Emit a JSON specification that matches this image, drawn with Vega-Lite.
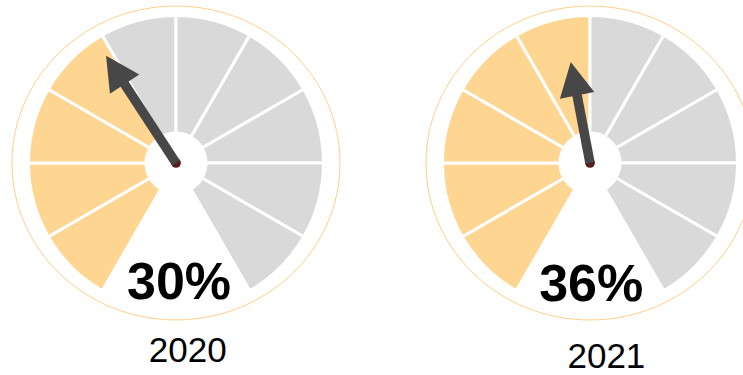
{
  "$schema": "https://vega.github.io/schema/vega-lite/v6.json",
  "padding": {"left": 11, "top": 0, "right": 0, "bottom": 0},
  "config": {"view": {"stroke": null}},
  "spacing": 74,
  "data": {
    "values": [
      {"year": "2020", "part": "ring", "cx": 0, "cy": 0},
      {"year": "2020", "part": "seg", "a0": -150, "a1": -120, "state": "on", "cx": 0, "cy": 0},
      {"year": "2020", "part": "seg", "a0": -120, "a1": -90, "state": "on", "cx": 0, "cy": 0},
      {"year": "2020", "part": "seg", "a0": -90, "a1": -60, "state": "on", "cx": 0, "cy": 0},
      {"year": "2020", "part": "seg", "a0": -60, "a1": -30, "state": "on", "cx": 0, "cy": 0},
      {"year": "2020", "part": "seg", "a0": -30, "a1": 0, "state": "off", "cx": 0, "cy": 0},
      {"year": "2020", "part": "seg", "a0": 0, "a1": 30, "state": "off", "cx": 0, "cy": 0},
      {"year": "2020", "part": "seg", "a0": 30, "a1": 60, "state": "off", "cx": 0, "cy": 0},
      {"year": "2020", "part": "seg", "a0": 60, "a1": 90, "state": "off", "cx": 0, "cy": 0},
      {"year": "2020", "part": "seg", "a0": 90, "a1": 120, "state": "off", "cx": 0, "cy": 0},
      {"year": "2020", "part": "seg", "a0": 120, "a1": 150, "state": "off", "cx": 0, "cy": 0},
      {"year": "2020", "part": "needle", "cx": 0, "cy": 0, "sx": -0.5352, "sy": 0.8209, "hx": -0.6067, "hy": 0.9307, "rot": -33.1},
      {"year": "2020", "part": "pct", "label": "30%", "lx": 0.03, "ly": -1.36},
      {"year": "2020", "part": "yr", "label": "2020", "lx": 0.118, "ly": -1.99},
      {"year": "2021", "part": "ring", "cx": 0, "cy": 0},
      {"year": "2021", "part": "seg", "a0": -150, "a1": -120, "state": "on", "cx": 0, "cy": 0},
      {"year": "2021", "part": "seg", "a0": -120, "a1": -90, "state": "on", "cx": 0, "cy": 0},
      {"year": "2021", "part": "seg", "a0": -90, "a1": -60, "state": "on", "cx": 0, "cy": 0},
      {"year": "2021", "part": "seg", "a0": -60, "a1": -30, "state": "on", "cx": 0, "cy": 0},
      {"year": "2021", "part": "seg", "a0": -30, "a1": 0, "state": "on", "cx": 0, "cy": 0},
      {"year": "2021", "part": "seg", "a0": 0, "a1": 30, "state": "off", "cx": 0, "cy": 0},
      {"year": "2021", "part": "seg", "a0": 30, "a1": 60, "state": "off", "cx": 0, "cy": 0},
      {"year": "2021", "part": "seg", "a0": 60, "a1": 90, "state": "off", "cx": 0, "cy": 0},
      {"year": "2021", "part": "seg", "a0": 90, "a1": 120, "state": "off", "cx": 0, "cy": 0},
      {"year": "2021", "part": "seg", "a0": 120, "a1": 150, "state": "off", "cx": 0, "cy": 0},
      {"year": "2021", "part": "needle", "cx": 0, "cy": 0, "sx": -0.1312, "sy": 0.6876, "hx": -0.1608, "hy": 0.8428, "rot": -10.8},
      {"year": "2021", "part": "pct", "label": "36%", "lx": 0.012, "ly": -1.377},
      {"year": "2021", "part": "yr", "label": "2021", "lx": 0.164, "ly": -2.05}
    ]
  },
  "hconcat": [
    {
      "width": 340,
      "height": 326,
      "transform": [{"filter": "datum.year === '2020'"}],
      "encoding": {
        "x": {"field": "cx", "type": "quantitative", "scale": {"domain": [-1.65, 1.75]}, "axis": null},
        "y": {"field": "cy", "type": "quantitative", "scale": {"domain": [-1.63, 1.63]}, "axis": null}
      },
      "layer": [
        {
          "transform": [{"filter": "datum.part === 'ring'"}],
          "mark": {"type": "point", "shape": "M-1,0A1,0.957 0 1,0 1,0A1,0.957 0 1,0 -1,0Z", "clip": true, "filled": false, "size": 107584, "stroke": "#FFD08A", "strokeWidth": 1, "opacity": 1}
        },
        {
          "transform": [{"filter": "datum.part === 'seg'"}],
          "mark": {"type": "arc", "radius": 147.5, "radius2": 30, "stroke": "white", "strokeWidth": 3},
          "encoding": {
            "theta": {"field": "a0", "type": "quantitative", "stack": null, "scale": {"domain": [0, 360], "range": [0, 6.283185307]}},
            "theta2": {"field": "a1"},
            "color": {"field": "state", "type": "nominal", "scale": {"domain": ["on", "off"], "range": ["#FFD592", "#D9D9D9"]}, "legend": null}
          }
        },
        {
          "transform": [{"filter": "datum.part === 'needle'"}],
          "mark": {"type": "point", "shape": "circle", "filled": true, "size": 95, "color": "#5C1C1C", "opacity": 1}
        },
        {
          "transform": [{"filter": "datum.part === 'needle'"}],
          "mark": {"type": "rule", "color": "#474747", "strokeWidth": 9.5, "strokeCap": "butt"},
          "encoding": {"x2": {"field": "sx"}, "y2": {"field": "sy"}}
        },
        {
          "transform": [{"filter": "datum.part === 'needle'"}],
          "mark": {"type": "point", "shape": "M0,-0.97L-1,0.97L1,0.97Z", "filled": true, "size": 1225, "color": "#474747", "opacity": 1},
          "encoding": {
            "x": {"field": "hx", "type": "quantitative"},
            "y": {"field": "hy", "type": "quantitative"},
            "angle": {"field": "rot", "type": "quantitative", "scale": {"domain": [-360, 360], "range": [-360, 360]}}
          }
        },
        {
          "transform": [{"filter": "datum.part === 'pct'"}],
          "mark": {"type": "text", "font": "Liberation Sans", "fontSize": 52, "fontWeight": "bold", "color": "#000000", "align": "center", "baseline": "alphabetic"},
          "encoding": {
            "x": {"field": "lx", "type": "quantitative"},
            "y": {"field": "ly", "type": "quantitative"},
            "text": {"field": "label"}
          }
        },
        {
          "transform": [{"filter": "datum.part === 'yr'"}],
          "mark": {"type": "text", "font": "Liberation Sans", "fontSize": 35, "color": "#000000", "align": "center", "baseline": "alphabetic"},
          "encoding": {
            "x": {"field": "lx", "type": "quantitative"},
            "y": {"field": "ly", "type": "quantitative"},
            "text": {"field": "label"}
          }
        }
      ]
    },
    {
      "width": 318,
      "height": 326,
      "transform": [{"filter": "datum.year === '2021'"}],
      "encoding": {
        "x": {"field": "cx", "type": "quantitative", "scale": {"domain": [-1.65, 1.53]}, "axis": null},
        "y": {"field": "cy", "type": "quantitative", "scale": {"domain": [-1.63, 1.63]}, "axis": null}
      },
      "layer": [
        {
          "transform": [{"filter": "datum.part === 'ring'"}],
          "mark": {"type": "point", "shape": "M-1,0A1,0.957 0 1,0 1,0A1,0.957 0 1,0 -1,0Z", "clip": true, "filled": false, "size": 107584, "stroke": "#FFD08A", "strokeWidth": 1, "opacity": 1}
        },
        {
          "transform": [{"filter": "datum.part === 'seg'"}],
          "mark": {"type": "arc", "radius": 147.5, "radius2": 30, "stroke": "white", "strokeWidth": 3},
          "encoding": {
            "theta": {"field": "a0", "type": "quantitative", "stack": null, "scale": {"domain": [0, 360], "range": [0, 6.283185307]}},
            "theta2": {"field": "a1"},
            "color": {"field": "state", "type": "nominal", "scale": {"domain": ["on", "off"], "range": ["#FFD592", "#D9D9D9"]}, "legend": null}
          }
        },
        {
          "transform": [{"filter": "datum.part === 'needle'"}],
          "mark": {"type": "point", "shape": "circle", "filled": true, "size": 95, "color": "#5C1C1C", "opacity": 1}
        },
        {
          "transform": [{"filter": "datum.part === 'needle'"}],
          "mark": {"type": "rule", "color": "#474747", "strokeWidth": 9.5, "strokeCap": "butt"},
          "encoding": {"x2": {"field": "sx"}, "y2": {"field": "sy"}}
        },
        {
          "transform": [{"filter": "datum.part === 'needle'"}],
          "mark": {"type": "point", "shape": "M0,-0.97L-1,0.97L1,0.97Z", "filled": true, "size": 1225, "color": "#474747", "opacity": 1},
          "encoding": {
            "x": {"field": "hx", "type": "quantitative"},
            "y": {"field": "hy", "type": "quantitative"},
            "angle": {"field": "rot", "type": "quantitative", "scale": {"domain": [-360, 360], "range": [-360, 360]}}
          }
        },
        {
          "transform": [{"filter": "datum.part === 'pct'"}],
          "mark": {"type": "text", "font": "Liberation Sans", "fontSize": 52, "fontWeight": "bold", "color": "#000000", "align": "center", "baseline": "alphabetic"},
          "encoding": {
            "x": {"field": "lx", "type": "quantitative"},
            "y": {"field": "ly", "type": "quantitative"},
            "text": {"field": "label"}
          }
        },
        {
          "transform": [{"filter": "datum.part === 'yr'"}],
          "mark": {"type": "text", "font": "Liberation Sans", "fontSize": 35, "color": "#000000", "align": "center", "baseline": "alphabetic"},
          "encoding": {
            "x": {"field": "lx", "type": "quantitative"},
            "y": {"field": "ly", "type": "quantitative"},
            "text": {"field": "label"}
          }
        }
      ]
    }
  ]
}
